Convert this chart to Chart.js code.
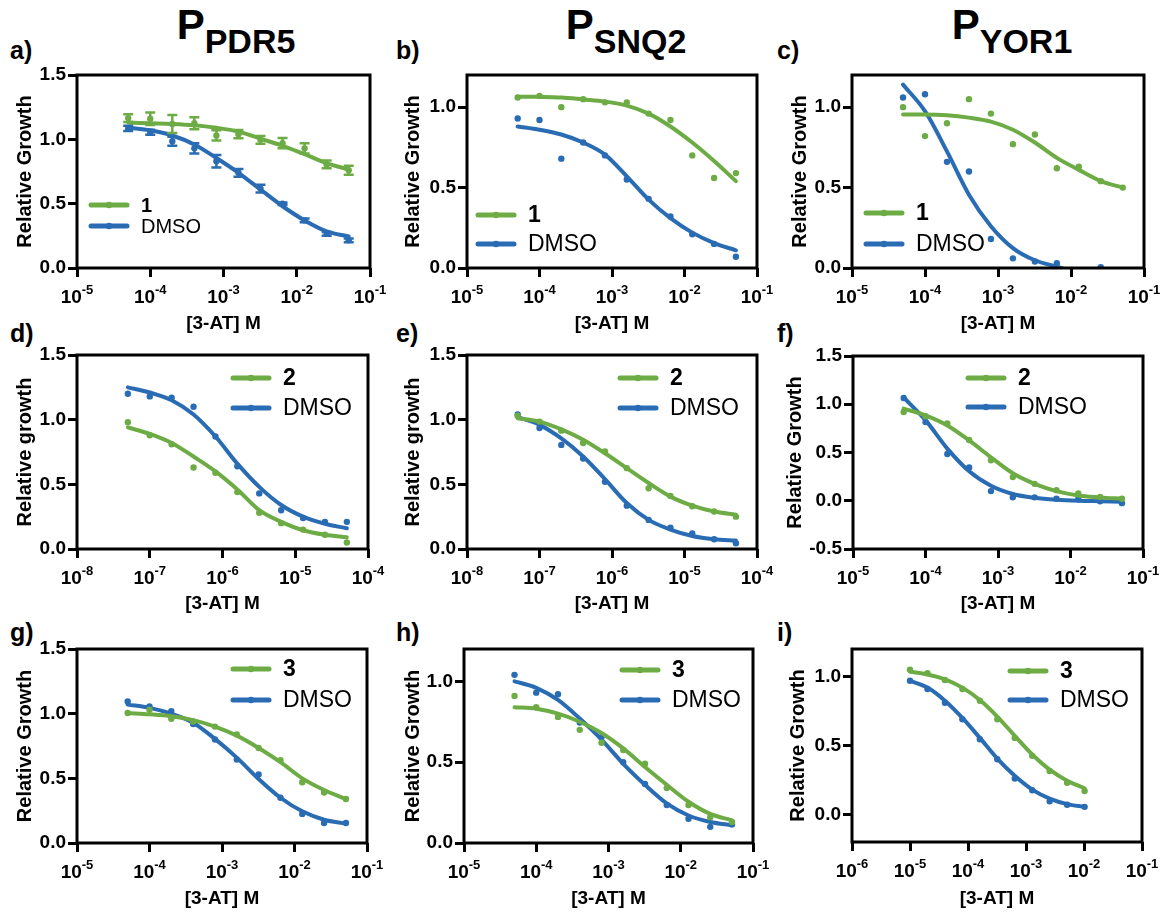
<!DOCTYPE html>
<html>
<head>
<meta charset="utf-8">
<script src="https://cdn.jsdelivr.net/npm/chart.js@4.4.1/dist/chart.umd.min.js"></script>
<style>
  body { margin: 0; background: #fff; }
  #page { position: relative; width: 1165px; height: 915px; overflow: hidden; font-family: "Liberation Sans", Arial, Helvetica, sans-serif; }
  canvas { position: absolute; }
  .ttl { position: absolute; width: 300px; text-align: center; font-weight: bold; font-size: 42px; line-height: 42px; top: 4px; white-space: nowrap; }
  .ttl span { font-size: 34px; position: relative; top: 14px; }
  .lbl { position: absolute; font-weight: bold; font-size: 25px; line-height: 25px; }
</style>
</head>
<body>
<div id="page">
  <div class="ttl" style="left:86px">P<span>PDR5</span></div>
  <div class="ttl" style="left:476px">P<span>SNQ2</span></div>
  <div class="ttl" style="left:862px">P<span>YOR1</span></div>

  <div class="lbl" style="left:10px;top:38px">a)</div>
  <div class="lbl" style="left:396px;top:38px">b)</div>
  <div class="lbl" style="left:777px;top:38px">c)</div>
  <div class="lbl" style="left:10px;top:321px">d)</div>
  <div class="lbl" style="left:396px;top:321px">e)</div>
  <div class="lbl" style="left:777px;top:321px">f)</div>
  <div class="lbl" style="left:10px;top:620px">g)</div>
  <div class="lbl" style="left:396px;top:620px">h)</div>
  <div class="lbl" style="left:777px;top:620px">i)</div>

  <canvas id="pa" width="388" height="280" style="left:0px;top:60px"></canvas>
  <canvas id="pb" width="387" height="280" style="left:388px;top:60px"></canvas>
  <canvas id="pc" width="390" height="280" style="left:775px;top:60px"></canvas>
  <canvas id="pd" width="388" height="280" style="left:0px;top:340px"></canvas>
  <canvas id="pe" width="387" height="280" style="left:388px;top:340px"></canvas>
  <canvas id="pf" width="390" height="280" style="left:775px;top:340px"></canvas>
  <canvas id="pg" width="388" height="295" style="left:0px;top:620px"></canvas>
  <canvas id="ph" width="387" height="295" style="left:388px;top:620px"></canvas>
  <canvas id="pi" width="390" height="295" style="left:775px;top:620px"></canvas>
</div>
<script>
// doses (M), 2-fold dilutions
var dosesMM = [5e-5, 1e-4, 2e-4, 4e-4, 8e-4, 1.6e-3, 3.2e-3, 6.4e-3, 1.28e-2, 2.56e-2, 5.12e-2];
var dosesUM = [5e-8, 1e-7, 2e-7, 4e-7, 8e-7, 1.6e-6, 3.2e-6, 6.4e-6, 1.28e-5, 2.56e-5, 5.12e-5];
var dosesI = [1e-5, 2e-5, 4e-5, 8e-5, 1.6e-4, 3.2e-4, 6.4e-4, 1.28e-3, 2.56e-3, 5.12e-3, 1.024e-2];

// tick labels
var xTicks5 = [1e-5, 1e-4, 1e-3, 1e-2, 1e-1];
var xTicks8 = [1e-8, 1e-7, 1e-6, 1e-5, 1e-4];
var xTicks6 = [1e-6, 1e-5, 1e-4, 1e-3, 1e-2, 1e-1];
var yTicks15 = [0, 0.5, 1, 1.5];
var yTicks12 = [0, 0.5, 1];
var yTicksNeg = [-0.5, 0, 0.5, 1, 1.5];

// a) PDR5 / compound 1
var aCmp = [1.165, 1.16, 1.12, 1.125, 1.03, 1.04, 0.996, 0.97, 0.93, 0.805, 0.76];
var aCmpErr = [0.03, 0.048, 0.07, 0.047, 0.04, 0.032, 0.03, 0.04, 0.04, 0.03, 0.035];
var aCmpFit = [1.13, 1.125, 1.12, 1.11, 1.09, 1.06, 1.005, 0.95, 0.885, 0.815, 0.765];
var aDmso = [1.085, 1.055, 0.985, 0.93, 0.83, 0.74, 0.617, 0.50, 0.37, 0.265, 0.215];
var aDmsoErr = [0.02, 0.02, 0.035, 0.04, 0.048, 0.03, 0.03, 0.01, 0.015, 0.015, 0.015];
var aDmsoFit = [1.09, 1.07, 1.03, 0.96, 0.855, 0.74, 0.61, 0.48, 0.37, 0.285, 0.245];
// b) SNQ2 / compound 1
var bCmp = [1.06, 1.07, 1.00, 1.05, 1.03, 1.03, 0.96, 0.92, 0.70, 0.56, 0.59];
var bCmpFit = [1.065, 1.064, 1.06, 1.048, 1.035, 1.01, 0.96, 0.88, 0.78, 0.665, 0.54];
var bDmso = [0.93, 0.92, 0.68, 0.78, 0.70, 0.55, 0.43, 0.32, 0.21, 0.15, 0.07];
var bDmsoFit = [0.88, 0.86, 0.83, 0.78, 0.705, 0.57, 0.425, 0.31, 0.22, 0.155, 0.11];
// c) YOR1 / compound 1
var cCmp = [1.00, 0.82, 0.90, 1.05, 0.96, 0.77, 0.83, 0.62, 0.63, 0.54, 0.50];
var cCmpFit = [0.955, 0.955, 0.95, 0.935, 0.91, 0.86, 0.78, 0.685, 0.61, 0.54, 0.50];
var cDmso = [1.06, 1.08, 0.66, 0.60, 0.18, 0.06, 0.04, 0.03, null, 0.005, null];
var cDmsoFit = [1.14, 0.975, 0.725, 0.456, 0.26, 0.124, 0.048, 0.008, -0.03, -0.05, -0.06];
// d) PDR5 / compound 2
var dCmp = [0.98, 0.88, 0.81, 0.63, 0.59, 0.44, 0.28, 0.20, 0.15, 0.11, 0.05];
var dCmpFit = [0.94, 0.89, 0.82, 0.715, 0.60, 0.46, 0.30, 0.21, 0.145, 0.11, 0.09];
var dDmso = [1.20, 1.18, 1.17, 1.10, 0.87, 0.64, 0.43, 0.30, 0.24, 0.21, 0.21];
var dDmsoFit = [1.25, 1.21, 1.15, 1.04, 0.87, 0.66, 0.48, 0.34, 0.25, 0.195, 0.16];
// e) SNQ2 / compound 2
var eCmp = [1.03, 0.985, 0.915, 0.82, 0.755, 0.625, 0.47, 0.41, 0.33, 0.29, 0.25];
var eCmpFit = [1.01, 0.985, 0.925, 0.845, 0.74, 0.625, 0.51, 0.405, 0.335, 0.29, 0.265];
var eDmso = [1.04, 0.935, 0.805, 0.70, 0.52, 0.335, 0.225, 0.165, 0.12, 0.075, 0.045];
var eDmsoFit = [1.02, 0.96, 0.855, 0.715, 0.54, 0.355, 0.225, 0.15, 0.10, 0.075, 0.065];
// f) YOR1 / compound 2
var fCmp = [0.92, 0.875, 0.80, 0.63, 0.42, 0.245, 0.175, 0.11, 0.075, 0.04, 0.02];
var fCmpFit = [0.955, 0.885, 0.78, 0.625, 0.45, 0.285, 0.175, 0.10, 0.055, 0.035, 0.02];
var fDmso = [1.065, 0.815, 0.485, 0.345, 0.10, 0.035, 0.035, 0.02, 0.015, -0.005, -0.025];
var fDmsoFit = [1.07, 0.835, 0.54, 0.305, 0.155, 0.07, 0.03, 0.01, 0.0, -0.005, -0.01];
// g) PDR5 / compound 3
var gCmp = [1.005, 1.03, 0.96, 0.94, 0.90, 0.84, 0.735, 0.64, 0.47, 0.39, 0.34];
var gCmpFit = [1.005, 0.995, 0.98, 0.95, 0.90, 0.83, 0.735, 0.625, 0.50, 0.41, 0.34];
var gDmso = [1.095, 1.055, 1.02, 0.92, 0.80, 0.645, 0.53, 0.35, 0.225, 0.155, 0.155];
var gDmsoFit = [1.07, 1.045, 1.0, 0.93, 0.805, 0.66, 0.495, 0.35, 0.245, 0.18, 0.15];
// h) SNQ2 / compound 3
var hCmp = [0.91, 0.84, 0.78, 0.70, 0.62, 0.575, 0.49, 0.34, 0.235, 0.16, 0.13];
var hCmpFit = [0.84, 0.83, 0.80, 0.75, 0.68, 0.585, 0.47, 0.36, 0.255, 0.18, 0.14];
var hDmso = [1.04, 0.93, 0.92, 0.745, 0.655, 0.50, 0.365, 0.235, 0.15, 0.10, 0.115];
var hDmsoFit = [1.0, 0.96, 0.885, 0.77, 0.64, 0.49, 0.36, 0.245, 0.17, 0.13, 0.11];
// i) YOR1 / compound 3
var iCmp = [1.05, 1.025, 0.975, 0.91, 0.825, 0.69, 0.555, 0.425, 0.315, 0.23, 0.17];
var iCmpFit = [1.035, 1.015, 0.98, 0.92, 0.83, 0.71, 0.57, 0.435, 0.325, 0.245, 0.19];
var iDmso = [0.97, 0.91, 0.81, 0.69, 0.545, 0.40, 0.26, 0.175, 0.095, 0.07, 0.055];
var iDmsoFit = [0.97, 0.92, 0.825, 0.70, 0.555, 0.405, 0.28, 0.18, 0.115, 0.075, 0.055];

var GREEN = "#6DAC45";
var BLUE = "#2A6CB4";
var FONT = '"Liberation Sans", Arial, Helvetica, sans-serif';

Chart.defaults.font.family = FONT;
Chart.defaults.color = "#000";

function pts(xs, ys) {
  var out = [];
  for (var i = 0; i < xs.length; i++) {
    if (ys[i] !== null) out.push({ x: xs[i], y: ys[i] });
  }
  return out;
}

// box around the plot area
var frame = {
  id: "frame",
  afterDatasetsDraw: function(chart) {
    var a = chart.chartArea, ctx = chart.ctx;
    ctx.save();
    ctx.strokeStyle = "#000";
    ctx.lineWidth = 3;
    ctx.strokeRect(a.left, a.top, a.right - a.left, a.bottom - a.top);
    ctx.restore();
  }
};

// "10" with a raised exponent under each x tick
var decadeLabels = {
  id: "decadeLabels",
  afterDraw: function(chart) {
    var ctx = chart.ctx, sx = chart.scales.x, base = chart.chartArea.bottom;
    ctx.save();
    ctx.fillStyle = "#000";
    ctx.textBaseline = "alphabetic";
    sx.ticks.forEach(function(t) {
      var exp = String(Math.round(Math.log10(t.value)));
      ctx.font = "bold 19px " + FONT;
      var w1 = ctx.measureText("10").width;
      ctx.font = "bold 13px " + FONT;
      var w2 = ctx.measureText(exp).width;
      var x0 = sx.getPixelForValue(t.value) - (w1 + w2) / 2;
      ctx.font = "bold 19px " + FONT;
      ctx.fillText("10", x0, base + 35);
      ctx.font = "bold 13px " + FONT;
      ctx.fillText(exp, x0 + w1, base + 26);
    });
    ctx.restore();
  }
};

var errorBars = {
  id: "errorBars",
  afterDatasetsDraw: function(chart) {
    var ctx = chart.ctx, ys = chart.scales.y;
    chart.data.datasets.forEach(function(d, i) {
      if (!d.errors) return;
      var meta = chart.getDatasetMeta(i);
      ctx.save();
      ctx.strokeStyle = d.backgroundColor;
      ctx.lineWidth = 2.5;
      meta.data.forEach(function(el, j) {
        var v = d.data[j].y, e = d.errors[j];
        var t = ys.getPixelForValue(v + e), b = ys.getPixelForValue(v - e);
        ctx.beginPath();
        ctx.moveTo(el.x, t); ctx.lineTo(el.x, b);
        ctx.moveTo(el.x - 5, t); ctx.lineTo(el.x + 5, t);
        ctx.moveTo(el.x - 5, b); ctx.lineTo(el.x + 5, b);
        ctx.stroke();
      });
      ctx.restore();
    });
  }
};

var boxLegend = {
  id: "boxLegend",
  afterDraw: function(chart, args, opts) {
    var ctx = chart.ctx, a = chart.chartArea;
    var items = chart.data.datasets.filter(function(d) { return d.legendText; });
    items.forEach(function(d, i) {
      var x = a.left + opts.dx, y = a.top + opts.dy + i * opts.gap;
      ctx.save();
      ctx.strokeStyle = d.borderColor;
      ctx.lineWidth = 5;
      ctx.lineCap = "round";
      ctx.beginPath(); ctx.moveTo(x, y); ctx.lineTo(x + 36, y); ctx.stroke();
      ctx.fillStyle = d.borderColor;
      ctx.beginPath(); ctx.arc(x + 18, y, 3.2, 0, 2 * Math.PI); ctx.fill();
      ctx.fillStyle = "#000";
      ctx.font = (d.legendBold ? "bold " : "") + opts.size + "px " + FONT;
      ctx.textBaseline = "middle";
      ctx.fillText(d.legendText, x + 50, y + 1);
      ctx.restore();
    });
  }
};

function makePanel(p, lay) {
  var series = [
    { label: p.cmpLabel, bold: true, color: GREEN, pts: p.cmp, fit: p.cmpFit, err: p.cmpErr },
    { label: "DMSO", bold: false, color: BLUE, pts: p.dmso, fit: p.dmsoFit, err: p.dmsoErr }
  ];
  var datasets = [];
  series.forEach(function(s) {
    datasets.push({
      data: pts(p.doses, s.fit),
      borderColor: s.color,
      borderWidth: 4,
      borderCapStyle: "round",
      pointRadius: 0,
      cubicInterpolationMode: "monotone",
      fill: false,
      legendText: s.label,
      legendBold: s.bold
    });
    datasets.push({
      data: pts(p.doses, s.pts),
      showLine: false,
      backgroundColor: s.color,
      borderColor: s.color,
      pointRadius: 3.2,
      pointBorderWidth: 0,
      errors: s.err
    });
  });

  var tickGrid = { display: true, drawOnChartArea: false, drawTicks: true, tickLength: 9, lineWidth: 3, color: "#000" };

  new Chart(document.getElementById(p.id), {
    type: "line",
    data: { datasets: datasets },
    options: {
      responsive: false,
      animation: false,
      layout: { autoPadding: false, padding: { top: lay.top, right: lay.right, left: 0, bottom: 0 } },
      plugins: {
        legend: { display: false },
        tooltip: { enabled: false },
        boxLegend: { dx: lay.lx, dy: lay.ly, gap: lay.gap, size: lay.size }
      },
      scales: {
        x: {
          type: "logarithmic",
          min: p.xTicks[0],
          max: p.xTicks[p.xTicks.length - 1],
          afterBuildTicks: function(s) { s.ticks = p.xTicks.map(function(v) { return { value: v }; }); },
          afterFit: function(s) { s.height = lay.xh; },
          grid: tickGrid,
          border: { display: false },
          ticks: { display: false, autoSkip: false },
          title: { display: true, text: "[3-AT] M", font: { size: 19, weight: "bold" }, padding: { top: 0, bottom: 5 } }
        },
        y: {
          min: p.yMin,
          max: p.yMax,
          afterBuildTicks: function(s) { s.ticks = p.yTicks.map(function(v) { return { value: v }; }); },
          afterFit: function(s) { s.width = lay.yw; },
          grid: tickGrid,
          border: { display: false },
          ticks: {
            padding: 2,
            font: { size: 19, weight: "bold" },
            callback: function(v) { return v.toFixed(1); }
          },
          title: { display: true, text: p.yTitle, font: { size: 20, weight: "bold" }, padding: { top: lay.tx, bottom: 0 } }
        }
      }
    },
    plugins: [errorBars, frame, decadeLabels, boxLegend]
  });
}

var panels = [
  { id: "pa", doses: dosesMM, xTicks: xTicks5, yMin: 0, yMax: 1.5, yTicks: yTicks15, yTitle: "Relative Growth", cmpLabel: "1",
    cmp: aCmp, cmpFit: aCmpFit, cmpErr: aCmpErr, dmso: aDmso, dmsoFit: aDmsoFit, dmsoErr: aDmsoErr },
  { id: "pb", doses: dosesMM, xTicks: xTicks5, yMin: 0, yMax: 1.2, yTicks: yTicks12, yTitle: "Relative Growth", cmpLabel: "1",
    cmp: bCmp, cmpFit: bCmpFit, dmso: bDmso, dmsoFit: bDmsoFit },
  { id: "pc", doses: dosesMM, xTicks: xTicks5, yMin: 0, yMax: 1.2, yTicks: yTicks12, yTitle: "Relative Growth", cmpLabel: "1",
    cmp: cCmp, cmpFit: cCmpFit, dmso: cDmso, dmsoFit: cDmsoFit },
  { id: "pd", doses: dosesUM, xTicks: xTicks8, yMin: 0, yMax: 1.5, yTicks: yTicks15, yTitle: "Relative growth", cmpLabel: "2",
    cmp: dCmp, cmpFit: dCmpFit, dmso: dDmso, dmsoFit: dDmsoFit },
  { id: "pe", doses: dosesUM, xTicks: xTicks8, yMin: 0, yMax: 1.5, yTicks: yTicks15, yTitle: "Relative growth", cmpLabel: "2",
    cmp: eCmp, cmpFit: eCmpFit, dmso: eDmso, dmsoFit: eDmsoFit },
  { id: "pf", doses: dosesMM, xTicks: xTicks5, yMin: -0.5, yMax: 1.5, yTicks: yTicksNeg, yTitle: "Relative Growth", cmpLabel: "2",
    cmp: fCmp, cmpFit: fCmpFit, dmso: fDmso, dmsoFit: fDmsoFit },
  { id: "pg", doses: dosesMM, xTicks: xTicks5, yMin: 0, yMax: 1.5, yTicks: yTicks15, yTitle: "Relative Growth", cmpLabel: "3",
    cmp: gCmp, cmpFit: gCmpFit, dmso: gDmso, dmsoFit: gDmsoFit },
  { id: "ph", doses: dosesMM, xTicks: xTicks5, yMin: 0, yMax: 1.2, yTicks: yTicks12, yTitle: "Relative Growth", cmpLabel: "3",
    cmp: hCmp, cmpFit: hCmpFit, dmso: hDmso, dmsoFit: hDmsoFit },
  { id: "pi", doses: dosesI, xTicks: xTicks6, yMin: -0.2, yMax: 1.2, yTicks: yTicks12, yTitle: "Relative Growth", cmpLabel: "3",
    cmp: iCmp, cmpFit: iCmpFit, dmso: iDmso, dmsoFit: iDmsoFit }
];

// plot-area geometry inside each canvas
var layouts = [
  { yw: 77, xh: 72, top: 15, right: 18, tx: 13, lx: 14, ly: 130, gap: 21, size: 20 },
  { yw: 79, xh: 72, top: 15, right: 18, tx: 13.5, lx: 11, ly: 140, gap: 29, size: 23 },
  { yw: 77, xh: 72, top: 15, right: 21, tx: 13, lx: 14, ly: 138, gap: 31, size: 23 },
  { yw: 77, xh: 71, top: 15, right: 20, tx: 13, lx: 156, ly: 23, gap: 30, size: 23 },
  { yw: 79, xh: 71, top: 15, right: 18, tx: 13, lx: 153, ly: 23, gap: 30, size: 23 },
  { yw: 78, xh: 71, top: 16, right: 22, tx: 8, lx: 115, ly: 22, gap: 29, size: 23 },
  { yw: 77, xh: 72, top: 29, right: 21, tx: 13, lx: 156, ly: 20, gap: 31, size: 23 },
  { yw: 76, xh: 72, top: 29, right: 22, tx: 13, lx: 158, ly: 21, gap: 30, size: 23 },
  { yw: 77, xh: 73, top: 29, right: 23, tx: 11.5, lx: 158, ly: 22, gap: 29, size: 23 }
];

panels.forEach(function(p, i) { makePanel(p, layouts[i]); });
</script>
</body>
</html>
